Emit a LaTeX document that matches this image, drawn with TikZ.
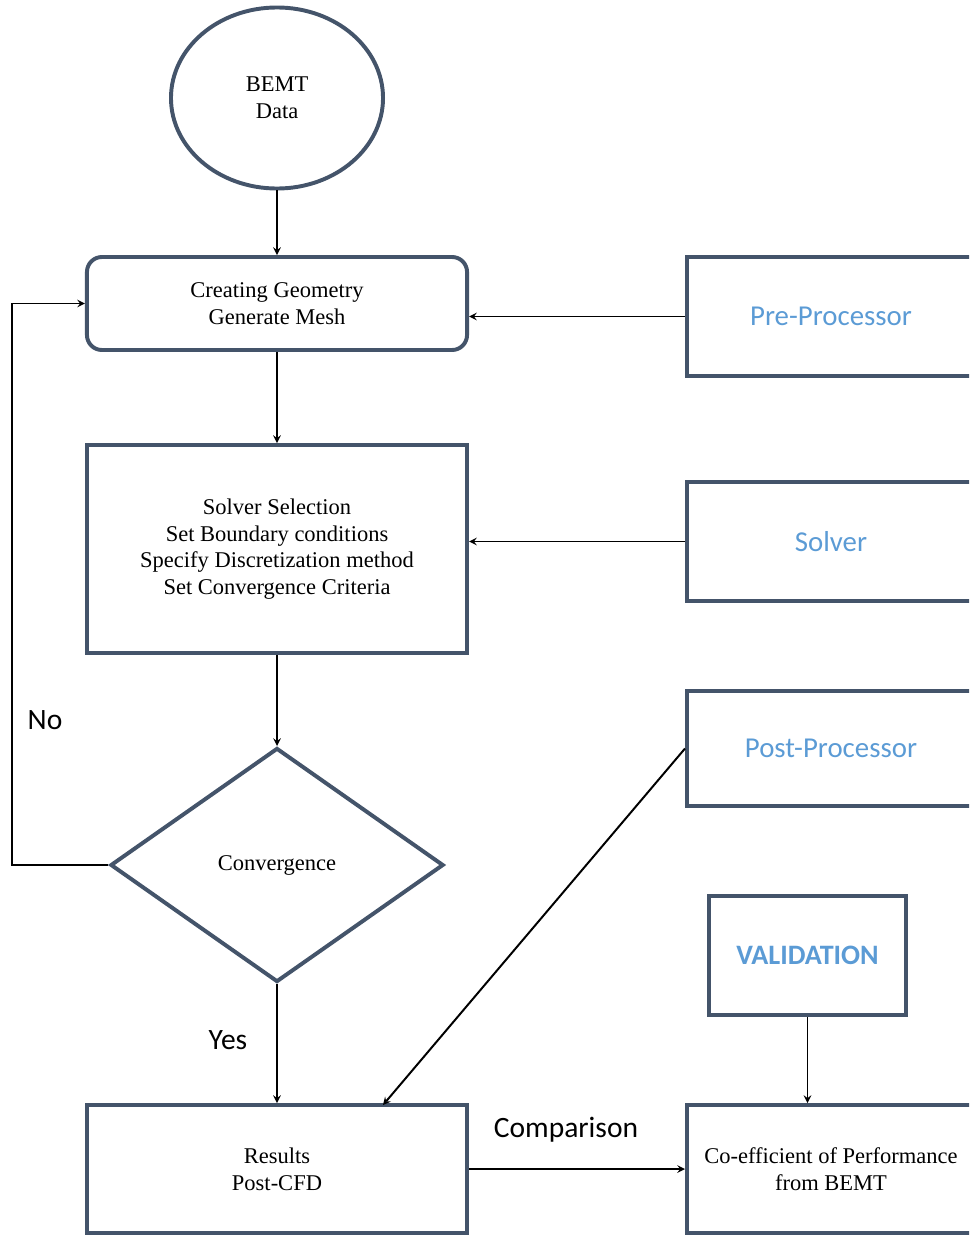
\documentclass[tikz,border=0pt]{standalone}
\usepackage{fontspec}
\setmainfont{Liberation Serif}
\newfontfamily\calibfont{Carlito}
\usepackage{xcolor}
\usetikzlibrary{shapes,arrows,positioning,shapes.geometric}
\definecolor{slateline}{HTML}{44546A}
\definecolor{toolblue}{HTML}{5B9BD5}

\begin{document}
\begin{tikzpicture}[x=0.025cm, y=-0.025cm, auto]
    % Define styles
    \tikzstyle{process} = [rectangle, minimum width=9.5cm, text centered, align=center, draw=slateline, line width=2.8pt, font=\fontsize{16}{19}\selectfont]
    \tikzstyle{tool} = [rectangle, minimum width=7.5cm, minimum height=2.975cm, text centered, draw=slateline, line width=2.8pt, text=toolblue, font=\calibfont\fontsize{20.5}{24}\selectfont]
    \tikzstyle{label} = [font=\calibfont\fontsize{21}{25}\selectfont]
    \tikzstyle{arrow} = [line width=1.4pt,->,>=stealth]

    \useasboundingbox (0,0) rectangle (969,1236);
    \clip (0,0) rectangle (969,1236);

    % Left side - main flow
    \node [ellipse, draw=slateline, line width=2.8pt, minimum width=5.3cm, minimum height=4.525cm, align=center, font=\fontsize{16}{19}\selectfont] (bemt) at (277,98) {BEMT\\Data};
    \node [process, rounded corners=0.375cm, minimum height=2.325cm] (geometry) at (277,303.5) {Creating Geometry\\Generate Mesh};
    \node [process, minimum height=5.2cm] (setup) at (277,549) {Solver Selection\\Set Boundary conditions\\Specify Discretization method\\Set Convergence Criteria};
    \node [diamond, draw=slateline, line width=2.8pt, minimum width=8.325cm, minimum height=5.85cm, inner sep=0pt, font=\fontsize{16}{19}\selectfont] (convergence) at (277,865) {Convergence};
    \node [process, minimum height=3.2cm] (results) at (277,1169) {Results\\Post-CFD};

    % Right side - tools
    \node [tool] (preproc) at (837,316.5) {Pre-Processor\hspace*{0.3cm}};
    \node [tool] (solver) at (837,541.5) {Solver\hspace*{0.3cm}};
    \node [tool, minimum height=2.875cm] (postproc) at (837,748.5) {Post-Processor\hspace*{0.3cm}};
    \node [tool, minimum width=4.925cm, font=\calibfont\bfseries\fontsize{20}{24}\selectfont] (validation) at (807.5,955.5) {VALIDATION};
    \node [process, minimum width=7.5cm, minimum height=3.2cm] (coefficient) at (837,1169) {Co-efficient of Performance\hspace*{0.3cm}\\from BEMT\hspace*{0.3cm}};

    % Helper points
    \coordinate (noline) at (12,0);
    \coordinate (postend) at (383,1105);

    % Arrows of the main flow
    \draw [arrow] (bemt) -- (geometry);
    \draw [arrow] (geometry) -- (setup);
    \draw [arrow] (setup) -- (convergence);
    \draw [arrow] (convergence) -- (results);
    \draw [arrow] (convergence.west) -- (convergence.west -| noline) |- (geometry.west);

    % Arrows from the tools
    \draw [arrow] (preproc.west) -- (preproc.west -| geometry.east);
    \draw [arrow] (solver.west) -- (solver.west -| setup.east);
    \draw [arrow] (postproc.west) -- (postend);
    \draw [arrow] (validation) -- (validation.south |- coefficient.north);
    \draw [arrow] (results.east) -- (coefficient.west);

    % Labels
    \node [label] (nolabel) at (45,720) {No};
    \node [label] (yeslabel) at (228,1040) {Yes};
    \node [label] (comparison) at (566,1130) {Comparison};

\end{tikzpicture}
\end{document}
